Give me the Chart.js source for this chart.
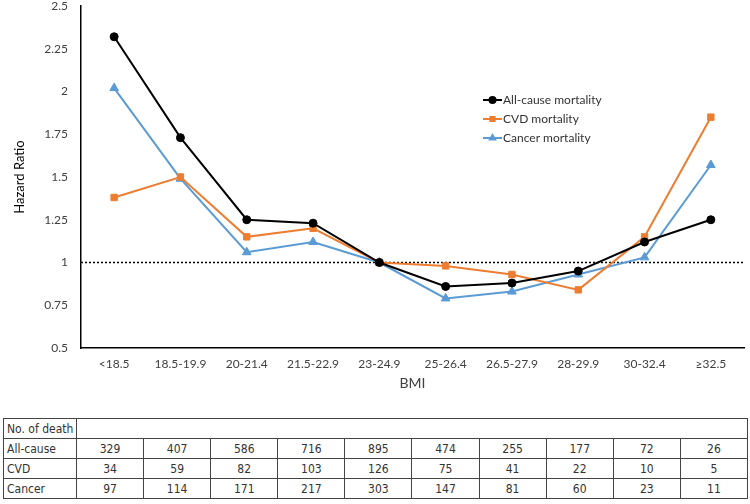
<!DOCTYPE html>
<html>
<head>
<meta charset="utf-8">
<script src="https://cdn.jsdelivr.net/npm/chart.js@4/dist/chart.umd.min.js"></script>
<style>
  body { margin: 0; background: #fff; width: 750px; height: 504px; overflow: hidden; position: relative; }
  #wrap { position: absolute; left: 0; top: 0; width: 750px; height: 410px; }
  #deaths { position: absolute; left: 3px; top: 418px; width: 745px; border-collapse: collapse;
    font-family: "Liberation Sans Narrow", "DejaVu Sans Condensed", "Noto Sans", sans-serif; font-size: 12px; color: #333; table-layout: fixed; }
  #deaths td { border: 1px solid #444; height: 19px; padding: 0; text-align: center; }
  #deaths td.lbl { text-align: left; padding-left: 3px; }
</style>
</head>
<body>
<div id="wrap"><canvas id="myChart"></canvas></div>
<table id="deaths"></table>
<script>
// BMI groups along the x-axis
var bmi = ["<18.5", "18.5-19.9", "20-21.4", "21.5-22.9", "23-24.9", "25-26.4", "26.5-27.9", "28-29.9", "30-32.4", "≥32.5"];
// hazard ratios
var allCause = [2.32, 1.73, 1.25, 1.23, 1.0, 0.86, 0.88, 0.95, 1.12, 1.25];
var cvd = [1.38, 1.50, 1.15, 1.20, 1.0, 0.98, 0.93, 0.84, 1.15, 1.85];
var cancer = [2.02, 1.49, 1.06, 1.12, 1.0, 0.79, 0.83, 0.93, 1.03, 1.57];
var refLine = 1;
// No. of death table
var deathAll = [329, 407, 586, 716, 895, 474, 255, 177, 72, 26];
var deathCvd = [34, 59, 82, 103, 126, 75, 41, 22, 10, 5];
var deathCancer = [97, 114, 171, 217, 303, 147, 81, 60, 23, 11];

var tickFont = { family: "Lato, 'Open Sans', sans-serif", size: 12 };

// dotted line at HR = 1
var refPlugin = {
  id: 'refLine',
  beforeDatasetsDraw: function(chart) {
    var ctx = chart.ctx, a = chart.chartArea;
    var y = chart.scales.y.getPixelForValue(refLine);
    ctx.save();
    ctx.strokeStyle = '#000';
    ctx.lineWidth = 1.5;
    ctx.setLineDash([2, 2]);
    ctx.beginPath();
    ctx.moveTo(a.left, y);
    ctx.lineTo(a.right, y);
    ctx.stroke();
    ctx.restore();
  }
};

// legend inside the plot
var legendPlugin = {
  id: 'innerLegend',
  afterDraw: function(chart) {
    var ctx = chart.ctx;
    var x0 = 483, x1 = 502, ys = [100, 119, 138];
    ctx.save();
    chart.data.datasets.forEach(function(ds, i) {
      var y = ys[i];
      ctx.strokeStyle = ds.borderColor;
      ctx.lineWidth = 2;
      ctx.beginPath(); ctx.moveTo(x0, y); ctx.lineTo(x1, y); ctx.stroke();
      Chart.helpers.drawPoint(ctx, { pointStyle: ds.pointStyle, radius: 3, borderWidth: 1 }, (x0 + x1) / 2, y);
      ctx.fillStyle = ds.backgroundColor;
      ctx.fill();
      ctx.fillStyle = '#333';
      ctx.font = "12px Lato, 'Open Sans', sans-serif";
      ctx.textBaseline = 'middle';
      ctx.fillText(ds.label, x1 + 1, y);
    });
    ctx.restore();
  }
};

var ctx = document.getElementById("myChart");
var myChart = new Chart(ctx, {
  type: 'line',
  data: {
    labels: bmi,
    datasets: [
      { label: "All-cause mortality", data: allCause, borderColor: "#000000", backgroundColor: "#000000", pointStyle: 'circle', pointRadius: 4 },
      { label: "CVD mortality", data: cvd, borderColor: "#ED7D31", backgroundColor: "#ED7D31", pointStyle: 'rect', pointRadius: 4.5 },
      { label: "Cancer mortality", data: cancer, borderColor: "#5B9BD5", backgroundColor: "#5B9BD5", pointStyle: 'triangle', pointRadius: 5 }
    ]
  },
  options: {
    responsive: true,
    maintainAspectRatio: false,
    animation: false,
    elements: { line: { borderWidth: 2, tension: 0 }, point: { borderWidth: 1 } },
    layout: { padding: { top: 6, right: 2, bottom: 12, left: 0 } },
    plugins: { legend: { display: false }, tooltip: { enabled: false } },
    scales: {
      x: {
        offset: true,
        grid: { display: false, drawTicks: false },
        border: { display: true, color: '#000', width: 1.5 },
        ticks: { color: '#404040', font: tickFont, padding: 9, maxRotation: 0, autoSkip: false },
        title: { display: true, text: 'BMI', color: '#404040', font: { family: tickFont.family, size: 14 }, padding: { top: 0, bottom: 6 } },
        afterFit: function(s) { s.height = 50; }
      },
      y: {
        min: 0.5, max: 2.5,
        grid: { display: false, drawTicks: false },
        border: { display: true, color: '#000', width: 1.5 },
        ticks: {
          stepSize: 0.25, color: '#404040', font: tickFont, padding: 13,
          callback: function(v) { return String(+v.toFixed(2)); }
        },
        title: { display: true, text: 'Hazard Ratio', color: '#000', font: { family: tickFont.family, size: 13 }, padding: { top: 12, bottom: 0 } },
        afterFit: function(s) { s.width = 81; s.paddingTop = 0; }
      }
    }
  },
  plugins: [refPlugin, legendPlugin]
});

// build the table from the arrays
var tbl = document.getElementById('deaths');
var html = '<colgroup><col style="width:73px">' + bmi.map(function() { return '<col>'; }).join('') + '</colgroup>';
html += '<tr><td class="lbl">No. of death</td><td colspan="' + bmi.length + '"></td></tr>';
[["All-cause", deathAll], ["CVD", deathCvd], ["Cancer", deathCancer]].forEach(function(r) {
  html += '<tr><td class="lbl">' + r[0] + '</td>' + r[1].map(function(v) { return '<td>' + v + '</td>'; }).join('') + '</tr>';
});
tbl.innerHTML = html;
</script>
</body>
</html>
